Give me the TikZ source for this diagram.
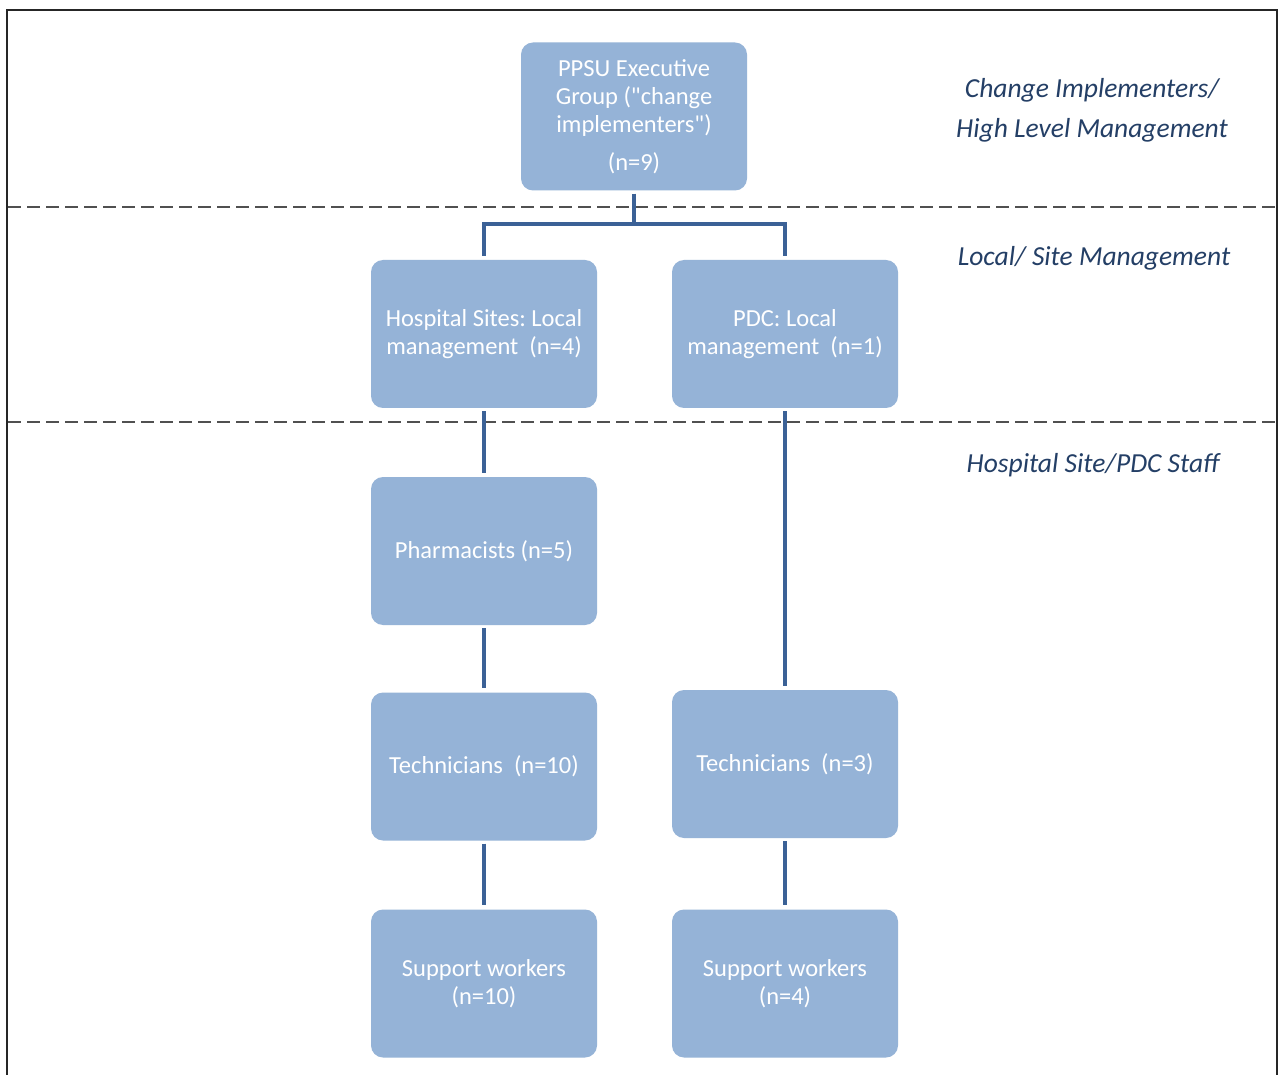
\documentclass[tikz,border=0pt]{standalone}
\usepackage{fontspec}
\setmainfont{Carlito}[Ligatures=TeXOff]
\frenchspacing
\definecolor{boxfill}{HTML}{95B3D7}
\definecolor{connblue}{HTML}{3B6196}
\definecolor{labelblue}{HTML}{243F66}
\definecolor{dashgray}{HTML}{505050}
\begin{document}
\begin{tikzpicture}[x=1pt,y=-1pt,
  orgbox/.style={fill=boxfill, draw=none, rounded corners=12pt,
    minimum width=226pt, minimum height=148pt, inner sep=0pt,
    text=white, align=center, font=\fontsize{24.5}{28}\selectfont\frenchspacing},
  conn/.style={draw=connblue, line width=4pt, shorten <=3pt, shorten >=4pt},
  divider/.style={draw=dashgray, line width=1.6pt, dash pattern=on 13pt off 6pt},
  levellabel/.style={text=labelblue, align=center, inner sep=0pt,
    font=\fontsize{27.5}{40}\selectfont\itshape\frenchspacing}]
  \useasboundingbox (0,0) rectangle (1278,1075);
  \fill[white] (0,0) rectangle (1278,1075);

  % frame (open at the bottom)
  \draw[line width=2pt, black!85] (7,1075) -- (7,10) -- (1277,10) -- (1277,1075);

  % level dividers
  \draw[divider] (8,207) -- (1278,207);
  \draw[divider] (8,422) -- (1278,422);

  % level labels
  \node[levellabel] (lvlA) at (1092,110) {Change Implementers/\\High Level Management};
  \node[levellabel] (lvlB) at (1094,258) {Local/ Site Management};
  \node[levellabel] (lvlC) at (1093,465) {Hospital Site/PDC Staff};

  % boxes
  \node[orgbox] (exec) at (634,116.5) {PPSU Executive\\Group ("change\\implementers")\\[10pt](n=9)};
  \node[orgbox] (hosp) at (484,334) {Hospital Sites: Local\\management\hspace{0.45em}(n=4)};
  \node[orgbox] (pdc)  at (785,334) {PDC: Local\\management\hspace{0.45em}(n=1)};
  \node[orgbox] (pharm) at (484,551) {Pharmacists (n=5)};
  \node[orgbox] (techL) at (484,766.5) {Technicians\hspace{0.45em}(n=10)};
  \node[orgbox] (techR) at (785,764) {Technicians\hspace{0.45em}(n=3)};
  \node[orgbox] (suppL) at (484,983.5) {Support workers\\(n=10)};
  \node[orgbox] (suppR) at (785,983.5) {Support workers\\(n=4)};

  % connectors
  \coordinate (split) at (634,224);
  \draw[conn, shorten >=0pt] (exec.south) -- (split);
  \draw[conn, shorten <=4pt, shorten >=4pt] (hosp.north) |- (split) -| (pdc.north);
  \draw[conn] (hosp.south) -- (pharm.north);
  \draw[conn] (pharm.south) -- (techL.north);
  \draw[conn] (techL.south) -- (suppL.north);
  \draw[conn] (pdc.south) -- (techR.north);
  \draw[conn] (techR.south) -- (suppR.north);
\end{tikzpicture}
\end{document}
